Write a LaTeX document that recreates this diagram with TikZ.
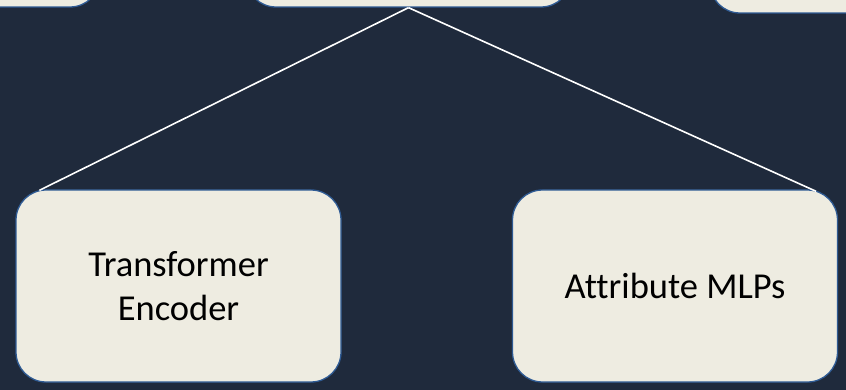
\documentclass[tikz,border=0pt]{standalone}
\usepackage{fontspec}
\setmainfont{Carlito}[Ligatures=NoCommon]
\definecolor{bgnavy}{HTML}{1F2A3C}
\definecolor{boxfill}{HTML}{EEECE1}
\definecolor{boxline}{HTML}{2F5B94}
\tikzset{
  block/.style={draw=boxline, line width=1.3pt, fill=boxfill, rounded corners=30pt,
    minimum width=325pt, minimum height=192pt, inner sep=0pt, align=center,
    text=black, font=\fontsize{36.5pt}{44pt}\selectfont},
  link/.style={draw=white, line width=1.6pt}
}
\begin{document}
\begin{tikzpicture}[x=1pt, y=-1pt]
  \useasboundingbox (0,0) rectangle (846,390);
  \fill[bgnavy] (0,0) rectangle (846,390);
  \begin{scope}
    \clip (0,0) rectangle (846,390);
    % upper row, mostly outside the frame
    \node[block] (tl) at (-62.5,-89) {};
    \node[block] (tc) at (408.5,-89) {};
    \node[block] (tr) at (872.5,-83) {};
    % lower row
    \node[block] (enc) at (178.5,286) {Transformer\\Encoder};
    \node[block] (mlp) at (675,286) {Attribute MLPs};
    % connectors
    \draw[link] (tc.south) -- ([xshift=24pt,yshift=-1pt]enc.north west);
    \draw[link] (tc.south) -- ([xshift=-22pt,yshift=-2pt]mlp.north east);
  \end{scope}
\end{tikzpicture}
\end{document}
